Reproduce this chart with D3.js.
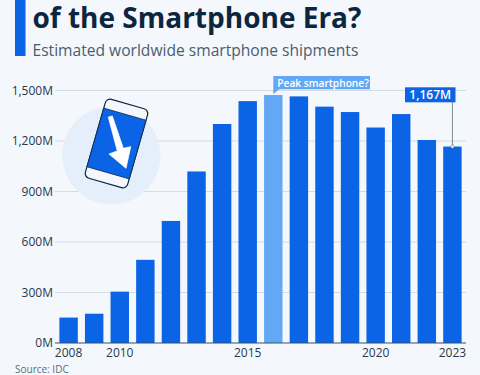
<!DOCTYPE html>
<html>
<head>
<meta charset="utf-8">
<script src="https://cdn.jsdelivr.net/npm/d3@7"></script>
<style>
  html, body { margin: 0; padding: 0; background: #f4f7fb; }
  svg { display: block; font-family: "Open Sans", sans-serif; }
</style>
</head>
<body>
<div id="chart"></div>
<script>
const years = [2008, 2009, 2010, 2011, 2012, 2013, 2014, 2015, 2016, 2017, 2018, 2019, 2020, 2021, 2022, 2023]
const shipments = [151, 174, 305, 494, 725, 1019, 1301, 1437, 1473, 1465, 1404, 1372, 1280, 1360, 1206, 1167]
const yTicks = [0, 300, 600, 900, 1200, 1500]
const xLabels = [2008, 2010, 2015, 2020, 2023]
const peakYear = 2016
const lastYear = 2023

const width = 480
const height = 375

const svg = d3.select("#chart")
  .append("svg")
  .attr("width", width)
  .attr("height", height)

const x = d3.scaleBand()
  .domain(years)
  .range([55.8, 465.2])
  .paddingInner(0.28)
  .paddingOuter(0.14)

const y = d3.scaleLinear()
  .domain([0, 1500])
  .range([343, 90.5])

// title block
svg.append("rect")
  .attr("x", 15).attr("y", 0)
  .attr("width", 10.5).attr("height", 56)
  .attr("fill", "#0b63e5")

svg.append("text")
  .attr("x", 32.5).attr("y", 28.3)
  .attr("font-size", 28)
  .attr("font-weight", 700)
  .attr("fill", "#0d2640")
  .text("of the Smartphone Era?")

svg.append("text")
  .attr("x", 32.5).attr("y", 56)
  .attr("font-size", 15.6)
  .attr("fill", "#4a5d70")
  .text("Estimated worldwide smartphone shipments")

// grid lines and y axis
const yAxis = d3.axisLeft(y)
  .tickValues(yTicks)
  .tickSize(0)
  .tickPadding(2)
  .tickFormat(d => d3.format(",")(d) + "M")

const yG = svg.append("g")
  .attr("transform", "translate(55,0)")
  .call(yAxis)
yG.select(".domain").remove()
yG.selectAll("text")
  .attr("font-family", "'Open Sans', sans-serif")
  .attr("font-size", 12)
  .attr("fill", "#26394d")

svg.append("g").selectAll("line")
  .data(yTicks.filter(d => d > 0))
  .join("line")
  .attr("x1", 55)
  .attr("x2", 466)
  .attr("y1", d => y(d))
  .attr("y2", d => y(d))
  .attr("stroke", "#d3dbe4")
  .attr("stroke-width", 1)

// phone icon
svg.append("circle")
  .attr("cx", 111.4).attr("cy", 155.5).attr("r", 49)
  .attr("fill", "#e5effb")

const phone = svg.append("g")
  .attr("transform", "translate(116.5,143.5) rotate(16)")
phone.append("rect")
  .attr("x", -22).attr("y", -41)
  .attr("width", 44).attr("height", 82).attr("rx", 5)
  .attr("fill", "#f4f7fb")
  .attr("stroke", "#0d2640")
  .attr("stroke-width", 1.2)
phone.append("rect")
  .attr("x", -22).attr("y", -30.5)
  .attr("width", 44).attr("height", 61)
  .attr("fill", "#0b63e5")
  .attr("stroke", "#0d2640")
  .attr("stroke-width", 0.7)
svg.append("path")
  .attr("d", "M108.3 117 L112.3 116 L123.3 148.3 L130.7 146.7 L126 168.3 L109 154 L117.3 151 Z")
  .attr("fill", "white")
  .attr("stroke", "white")
  .attr("stroke-width", 0.8)
  .attr("stroke-linejoin", "round")

// bars
svg.append("g").selectAll("rect")
  .data(years)
  .join("rect")
  .attr("x", d => x(d))
  .attr("y", (d, i) => y(shipments[i]))
  .attr("width", x.bandwidth())
  .attr("height", (d, i) => y(0) - y(shipments[i]))
  .attr("fill", d => d === peakYear ? "#62a8f5" : "#0b63e5")

// baseline and x labels
svg.append("line")
  .attr("x1", 55).attr("x2", 466)
  .attr("y1", y(0)).attr("y2", y(0))
  .attr("stroke", "#36506b")
  .attr("stroke-width", 1)

svg.append("g").selectAll("text")
  .data(xLabels)
  .join("text")
  .attr("x", d => x(d) + x.bandwidth() / 2)
  .attr("y", 357)
  .attr("text-anchor", "middle")
  .attr("font-size", 12)
  .attr("fill", "#26394d")
  .text(d => d)

svg.append("text")
  .attr("x", 15).attr("y", 372.5)
  .attr("font-size", 10)
  .attr("fill", "#5a6b7c")
  .text("Source: IDC")

// peak callout
const peakX = x(peakYear) + x.bandwidth() / 2
svg.append("path")
  .attr("d", `M${peakX} 94 L${peakX} 76 L370 76 L370 89.3 L${peakX + 6} 89.3 Z`)
  .attr("fill", "#62a8f5")
svg.append("text")
  .attr("x", peakX + 4).attr("y", 86.5)
  .attr("font-size", 10.2)
  .attr("font-weight", 600)
  .attr("fill", "white")
  .text("Peak smartphone?")

// last value callout
const lastX = x(lastYear) + x.bandwidth() / 2
svg.append("line")
  .attr("x1", lastX).attr("x2", lastX)
  .attr("y1", 102).attr("y2", y(1167))
  .attr("stroke", "#7d8a96")
  .attr("stroke-width", 1)
svg.append("circle")
  .attr("cx", lastX).attr("cy", y(1167)).attr("r", 1.6)
  .attr("fill", "white")
  .attr("stroke", "#7d8a96")
  .attr("stroke-width", 0.8)
svg.append("rect")
  .attr("x", 405).attr("y", 87.3)
  .attr("width", 50.5).attr("height", 15)
  .attr("fill", "#0b63e5")
svg.append("text")
  .attr("x", 430.2).attr("y", 99.3)
  .attr("text-anchor", "middle")
  .attr("font-size", 12)
  .attr("font-weight", 600)
  .attr("fill", "white")
  .text("1,167M")
</script>
</body>
</html>
